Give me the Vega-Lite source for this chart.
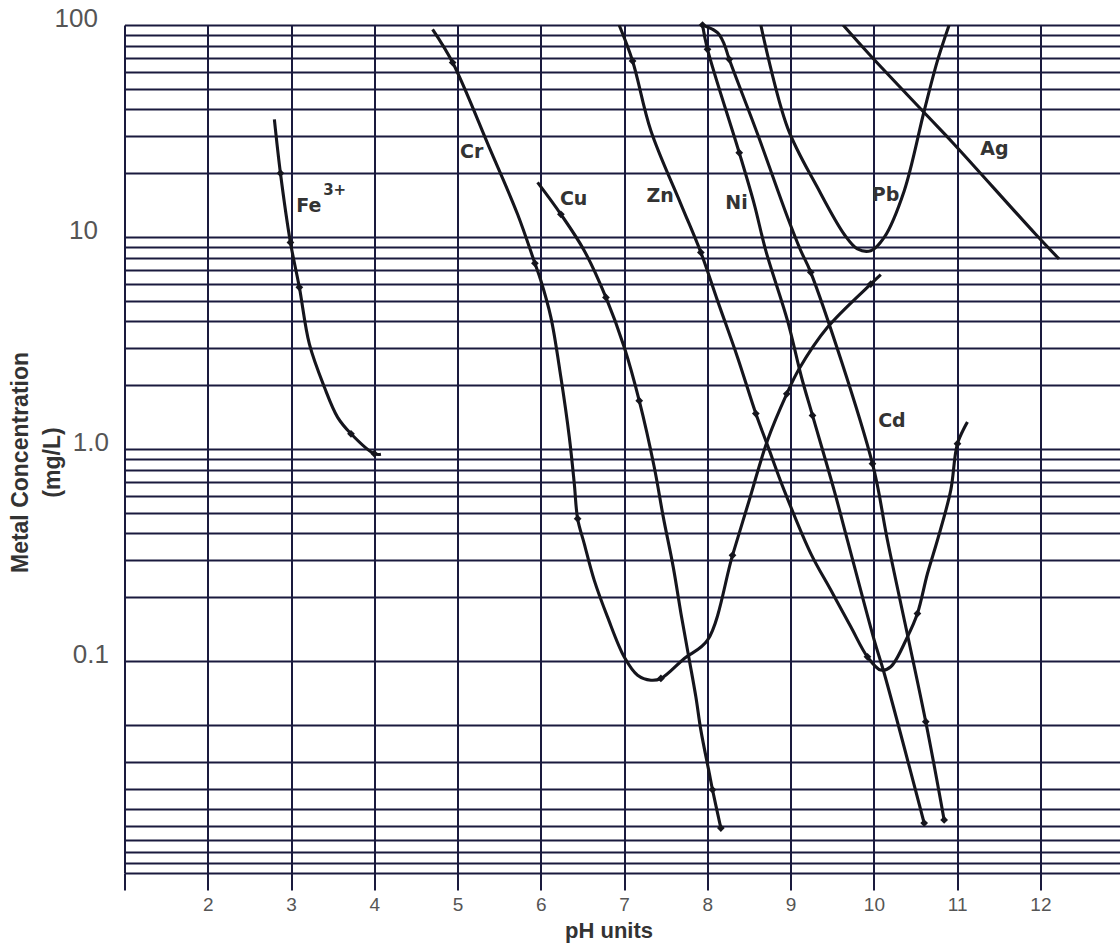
{
  "$schema": "https://vega.github.io/schema/vega-lite/v6.json",
  "width": 995,
  "height": 848,
  "autosize": "none",
  "padding": {"left": 124.5, "top": 25, "right": 0, "bottom": 70},
  "background": "white",
  "config": {"view": {"stroke": null}},
  "datasets": {
    "curves": [
      {"metal": "Fe", "pH": 2.80, "conc": 35.9},
      {"metal": "Fe", "pH": 2.873, "conc": 20.0},
      {"metal": "Fe", "pH": 2.993, "conc": 9.43},
      {"metal": "Fe", "pH": 3.10, "conc": 5.79},
      {"metal": "Fe", "pH": 3.22, "conc": 3.13},
      {"metal": "Fe", "pH": 3.40, "conc": 1.96},
      {"metal": "Fe", "pH": 3.56, "conc": 1.41},
      {"metal": "Fe", "pH": 3.72, "conc": 1.18},
      {"metal": "Fe", "pH": 4.0, "conc": 0.95},
      {"metal": "Fe", "pH": 4.08, "conc": 0.945},
      {"metal": "Cr", "pH": 4.70, "conc": 95.4},
      {"metal": "Cr", "pH": 4.941, "conc": 66.5},
      {"metal": "Cr", "pH": 5.382, "conc": 26.4},
      {"metal": "Cr", "pH": 5.721, "conc": 12.8},
      {"metal": "Cr", "pH": 5.929, "conc": 7.51},
      {"metal": "Cr", "pH": 6.001, "conc": 6.22},
      {"metal": "Cr", "pH": 6.121, "conc": 4.18},
      {"metal": "Cr", "pH": 6.241, "conc": 2.18},
      {"metal": "Cr", "pH": 6.342, "conc": 1.14},
      {"metal": "Cr", "pH": 6.402, "conc": 0.686},
      {"metal": "Cr", "pH": 6.442, "conc": 0.469},
      {"metal": "Cr", "pH": 6.522, "conc": 0.357},
      {"metal": "Cr", "pH": 6.642, "conc": 0.240},
      {"metal": "Cr", "pH": 6.802, "conc": 0.161},
      {"metal": "Cr", "pH": 7.002, "conc": 0.1044},
      {"metal": "Cr", "pH": 7.162, "conc": 0.0857},
      {"metal": "Cr", "pH": 7.322, "conc": 0.0812},
      {"metal": "Cr", "pH": 7.442, "conc": 0.0827},
      {"metal": "Cr", "pH": 7.723, "conc": 0.1028},
      {"metal": "Cr", "pH": 8.002, "conc": 0.1254},
      {"metal": "Cr", "pH": 8.302, "conc": 0.315},
      {"metal": "Cr", "pH": 8.503, "conc": 0.573},
      {"metal": "Cr", "pH": 8.723, "conc": 1.10},
      {"metal": "Cr", "pH": 8.954, "conc": 1.82},
      {"metal": "Cr", "pH": 9.103, "conc": 2.39},
      {"metal": "Cr", "pH": 9.443, "conc": 3.75},
      {"metal": "Cr", "pH": 9.963, "conc": 6.0},
      {"metal": "Cr", "pH": 10.083, "conc": 6.65},
      {"metal": "Cu", "pH": 5.961, "conc": 18.1},
      {"metal": "Cu", "pH": 6.241, "conc": 12.8},
      {"metal": "Cu", "pH": 6.522, "conc": 8.62},
      {"metal": "Cu", "pH": 6.782, "conc": 5.19},
      {"metal": "Cu", "pH": 7.002, "conc": 3.02},
      {"metal": "Cu", "pH": 7.182, "conc": 1.69},
      {"metal": "Cu", "pH": 7.362, "conc": 0.822},
      {"metal": "Cu", "pH": 7.471, "conc": 0.477},
      {"metal": "Cu", "pH": 7.59, "conc": 0.278},
      {"metal": "Cu", "pH": 7.69, "conc": 0.1616},
      {"metal": "Cu", "pH": 7.78, "conc": 0.1028},
      {"metal": "Cu", "pH": 7.862, "conc": 0.0678},
      {"metal": "Cu", "pH": 7.922, "conc": 0.0472},
      {"metal": "Cu", "pH": 8.023, "conc": 0.0296},
      {"metal": "Cu", "pH": 8.062, "conc": 0.0247},
      {"metal": "Cu", "pH": 8.162, "conc": 0.0163},
      {"metal": "Zn", "pH": 6.94, "conc": 100},
      {"metal": "Zn", "pH": 7.102, "conc": 67.7},
      {"metal": "Zn", "pH": 7.322, "conc": 31.7},
      {"metal": "Zn", "pH": 7.682, "conc": 14.3},
      {"metal": "Zn", "pH": 7.922, "conc": 8.46},
      {"metal": "Zn", "pH": 8.122, "conc": 5.01},
      {"metal": "Zn", "pH": 8.362, "conc": 2.71},
      {"metal": "Zn", "pH": 8.582, "conc": 1.47},
      {"metal": "Zn", "pH": 8.723, "conc": 1.04},
      {"metal": "Zn", "pH": 8.923, "conc": 0.638},
      {"metal": "Zn", "pH": 9.243, "conc": 0.321},
      {"metal": "Zn", "pH": 9.483, "conc": 0.216},
      {"metal": "Zn", "pH": 9.723, "conc": 0.145},
      {"metal": "Zn", "pH": 9.923, "conc": 0.1046},
      {"metal": "Zn", "pH": 10.083, "conc": 0.0906},
      {"metal": "Zn", "pH": 10.203, "conc": 0.094},
      {"metal": "Zn", "pH": 10.403, "conc": 0.130},
      {"metal": "Zn", "pH": 10.523, "conc": 0.1675},
      {"metal": "Zn", "pH": 10.643, "conc": 0.258},
      {"metal": "Zn", "pH": 10.763, "conc": 0.371},
      {"metal": "Zn", "pH": 10.923, "conc": 0.638},
      {"metal": "Zn", "pH": 11.004, "conc": 1.06},
      {"metal": "Zn", "pH": 11.124, "conc": 1.34},
      {"metal": "Ni", "pH": 7.942, "conc": 100},
      {"metal": "Ni", "pH": 8.002, "conc": 76.8},
      {"metal": "Ni", "pH": 8.383, "conc": 25.0},
      {"metal": "Ni", "pH": 8.563, "conc": 14.3},
      {"metal": "Ni", "pH": 8.702, "conc": 8.62},
      {"metal": "Ni", "pH": 8.963, "conc": 4.03},
      {"metal": "Ni", "pH": 9.131, "conc": 2.18},
      {"metal": "Ni", "pH": 9.263, "conc": 1.44},
      {"metal": "Ni", "pH": 9.523, "conc": 0.638},
      {"metal": "Ni", "pH": 9.683, "conc": 0.371},
      {"metal": "Ni", "pH": 10.004, "conc": 0.1255},
      {"metal": "Ni", "pH": 10.124, "conc": 0.0875},
      {"metal": "Ni", "pH": 10.604, "conc": 0.0172},
      {"metal": "Cd", "pH": 7.942, "conc": 100},
      {"metal": "Cd", "pH": 8.122, "conc": 92},
      {"metal": "Cd", "pH": 8.203, "conc": 81.1},
      {"metal": "Cd", "pH": 8.263, "conc": 68.9},
      {"metal": "Cd", "pH": 8.603, "conc": 30.6},
      {"metal": "Cd", "pH": 8.963, "conc": 12.4},
      {"metal": "Cd", "pH": 9.122, "conc": 8.62},
      {"metal": "Cd", "pH": 9.242, "conc": 6.81},
      {"metal": "Cd", "pH": 9.983, "conc": 0.853},
      {"metal": "Cd", "pH": 10.163, "conc": 0.371},
      {"metal": "Cd", "pH": 10.623, "conc": 0.0517},
      {"metal": "Cd", "pH": 10.844, "conc": 0.0178},
      {"metal": "Pb", "pH": 8.642, "conc": 100},
      {"metal": "Pb", "pH": 8.963, "conc": 32.8},
      {"metal": "Pb", "pH": 9.323, "conc": 17.1},
      {"metal": "Pb", "pH": 9.643, "conc": 10.3},
      {"metal": "Pb", "pH": 9.803, "conc": 8.78},
      {"metal": "Pb", "pH": 9.963, "conc": 8.62},
      {"metal": "Pb", "pH": 10.124, "conc": 9.96},
      {"metal": "Pb", "pH": 10.364, "conc": 16.5},
      {"metal": "Pb", "pH": 10.604, "conc": 39.3},
      {"metal": "Pb", "pH": 10.763, "conc": 67.7},
      {"metal": "Pb", "pH": 10.904, "conc": 100},
      {"metal": "Ag", "pH": 9.63, "conc": 100},
      {"metal": "Ag", "pH": 9.944, "conc": 72.8},
      {"metal": "Ag", "pH": 10.644, "conc": 37.2},
      {"metal": "Ag", "pH": 10.964, "conc": 27.4},
      {"metal": "Ag", "pH": 11.943, "conc": 10.3},
      {"metal": "Ag", "pH": 12.224, "conc": 7.88}
    ],
    "markers": [
      {"metal": "Fe", "pH": 2.873, "conc": 20.0},
      {"metal": "Fe", "pH": 2.993, "conc": 9.43},
      {"metal": "Fe", "pH": 3.10, "conc": 5.79},
      {"metal": "Fe", "pH": 3.72, "conc": 1.18},
      {"metal": "Fe", "pH": 4.0, "conc": 0.95},
      {"metal": "Cr", "pH": 4.941, "conc": 66.5},
      {"metal": "Cr", "pH": 5.929, "conc": 7.51},
      {"metal": "Cr", "pH": 6.442, "conc": 0.469},
      {"metal": "Cr", "pH": 7.442, "conc": 0.0827},
      {"metal": "Cr", "pH": 8.302, "conc": 0.315},
      {"metal": "Cr", "pH": 8.954, "conc": 1.82},
      {"metal": "Cr", "pH": 9.963, "conc": 6.0},
      {"metal": "Cu", "pH": 6.241, "conc": 12.8},
      {"metal": "Cu", "pH": 6.782, "conc": 5.19},
      {"metal": "Cu", "pH": 7.182, "conc": 1.69},
      {"metal": "Cu", "pH": 8.062, "conc": 0.0247},
      {"metal": "Cu", "pH": 8.162, "conc": 0.0163},
      {"metal": "Zn", "pH": 7.102, "conc": 67.7},
      {"metal": "Zn", "pH": 7.922, "conc": 8.46},
      {"metal": "Zn", "pH": 8.582, "conc": 1.47},
      {"metal": "Zn", "pH": 9.923, "conc": 0.1046},
      {"metal": "Zn", "pH": 10.523, "conc": 0.1675},
      {"metal": "Zn", "pH": 11.004, "conc": 1.06},
      {"metal": "Ni", "pH": 7.942, "conc": 100},
      {"metal": "Ni", "pH": 8.002, "conc": 76.8},
      {"metal": "Ni", "pH": 8.383, "conc": 25.0},
      {"metal": "Ni", "pH": 9.263, "conc": 1.44},
      {"metal": "Ni", "pH": 10.604, "conc": 0.0172},
      {"metal": "Cd", "pH": 8.263, "conc": 68.9},
      {"metal": "Cd", "pH": 9.242, "conc": 6.81},
      {"metal": "Cd", "pH": 9.983, "conc": 0.853},
      {"metal": "Cd", "pH": 10.623, "conc": 0.0517},
      {"metal": "Cd", "pH": 10.844, "conc": 0.0178}
    ],
    "labels": [
      {"name": "Cr", "pH": 5.169, "conc": 25.2},
      {"name": "Cu", "pH": 6.394, "conc": 15.15},
      {"name": "Zn", "pH": 7.432, "conc": 15.65},
      {"name": "Ni", "pH": 8.351, "conc": 14.5},
      {"name": "Pb", "pH": 10.14, "conc": 15.8},
      {"name": "Ag", "pH": 11.448, "conc": 26.1},
      {"name": "Cd", "pH": 10.217, "conc": 1.349},
      {"name": "Fe", "pH": 3.2125, "conc": 14.04}
    ],
    "superscripts": [
      {"name": "3+", "pH": 3.524, "conc": 16.7}
    ]
  },
  "layer": [
    {
      "data": {"name": "curves"},
      "mark": {"type": "line", "interpolate": "catmull-rom", "color": "#15151d", "strokeWidth": 3.1, "clip": true},
      "encoding": {
        "x": {
          "field": "pH", "type": "quantitative",
          "scale": {"domain": [1, 12.95], "nice": false, "zero": false},
          "axis": {
            "values": [1, 2, 3, 4, 5, 6, 7, 8, 9, 10, 11, 12],
            "format": "d",
            "grid": true, "gridColor": "#1a1a3e", "gridWidth": 2,
            "domain": false,
            "ticks": true, "tickSize": 17, "tickColor": "#1a1a3e", "tickWidth": 2,
            "labelExpr": "datum.value == 1 ? '' : datum.label",
            "labelFont": "Liberation Sans", "labelFontSize": 19, "labelColor": "#555555",
            "labelPadding": 5, "labelOverlap": false, "labelFlush": false,
            "title": "pH units",
            "titleFont": "Liberation Sans", "titleFontSize": 22, "titleFontWeight": "bold", "titleColor": "#333333",
            "titleX": 484, "titleY": 64, "titleAlign": "center", "titleBaseline": "alphabetic"
          }
        },
        "y": {
          "field": "conc", "type": "quantitative",
          "scale": {"type": "log", "domain": [0.01, 100], "nice": false},
          "axis": {
            "values": [100, 90, 80, 70, 60, 50, 40, 30, 20, 10, 9, 8, 7, 6, 5, 4, 3, 2, 1, 0.9, 0.8, 0.7, 0.6, 0.5, 0.4, 0.3, 0.2, 0.1, 0.05, 0.033333, 0.025, 0.02, 0.016667, 0.0142857, 0.0125, 0.0111111, 0.01],
            "grid": true, "gridColor": "#1a1a3e", "gridWidth": 2,
            "domain": false, "ticks": false,
            "labelExpr": "datum.value == 100 ? '100' : datum.value == 10 ? '10' : datum.value == 1 ? '1.0' : datum.value == 0.1 ? '0.1' : ''",
            "labelFont": "Liberation Sans", "labelFontSize": 26, "labelColor": "#555555",
            "labelPadding": {"condition": {"test": "datum.value >= 10", "value": 27}, "value": 16},
            "labelOffset": -7, "labelOverlap": false, "labelBound": false, "labelFlush": false,
            "title": ["Metal Concentration", "(mg/L)"],
            "titleFont": "Liberation Sans", "titleFontSize": 23, "titleFontWeight": "bold", "titleColor": "#333333",
            "titleAngle": -90, "titleX": -104.5, "titleY": 437, "titleAlign": "center", "titleBaseline": "middle",
            "titleLineHeight": 32
          }
        },
        "detail": {"field": "metal"}
      }
    },
    {
      "data": {"name": "markers"},
      "mark": {"type": "point", "shape": "diamond", "filled": true, "size": 60, "color": "#15151d", "opacity": 1},
      "encoding": {
        "x": {"field": "pH", "type": "quantitative"},
        "y": {"field": "conc", "type": "quantitative"}
      }
    },
    {
      "data": {"name": "labels"},
      "mark": {"type": "text", "font": "DejaVu Sans", "fontWeight": "bold", "fontSize": 19, "color": "#333333", "baseline": "middle", "align": "center"},
      "encoding": {
        "x": {"field": "pH", "type": "quantitative"},
        "y": {"field": "conc", "type": "quantitative"},
        "text": {"field": "name"}
      }
    },
    {
      "data": {"name": "superscripts"},
      "mark": {"type": "text", "font": "DejaVu Sans", "fontWeight": "bold", "fontSize": 15, "color": "#333333", "baseline": "middle", "align": "center"},
      "encoding": {
        "x": {"field": "pH", "type": "quantitative"},
        "y": {"field": "conc", "type": "quantitative"},
        "text": {"field": "name"}
      }
    }
  ]
}
